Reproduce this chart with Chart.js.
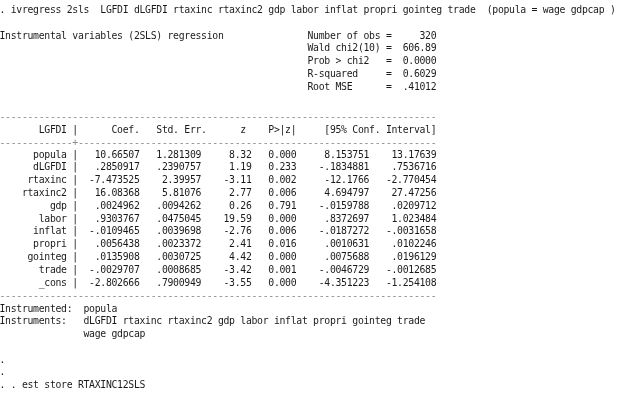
<!DOCTYPE html>
<html><head><meta charset="utf-8">
<script src="https://cdn.jsdelivr.net/npm/chart.js@4"></script>
<style>html,body{margin:0;padding:0;background:#fff}#w{width:623px;height:402px}</style>
</head><body><div id="w"><canvas id="c"></canvas></div>
<script>
const depVar = "LGFDI";
const varNames = ["popula","dLGFDI","rtaxinc","rtaxinc2","gdp","labor","inflat","propri","gointeg","trade","_cons"];
const coef   = ["10.66507",".2850917","-7.473525","16.08368",".0024962",".9303767","-.0109465",".0056438",".0135908","-.0029707","-2.802666"];
const stdErr = ["1.281309",".2390757","2.39957","5.81076",".0094262",".0475045",".0039698",".0023372",".0030725",".0008685",".7900949"];
const zVal   = ["8.32","1.19","-3.11","2.77","0.26","19.59","-2.76","2.41","4.42","-3.42","-3.55"];
const pVal   = ["0.000","0.233","0.002","0.006","0.791","0.000","0.006","0.016","0.000","0.001","0.000"];
const ciLow  = ["8.153751","-.1834881","-12.1766","4.694797","-.0159788",".8372697","-.0187272",".0010631",".0075688","-.0046729","-4.351223"];
const ciHigh = ["13.17639",".7536716","-2.770454","27.47256",".0209712","1.023484","-.0031658",".0102246",".0196129","-.0012685","-1.254108"];
const statLabels = ["Number of obs =","Wald chi2(10) =","Prob > chi2   =","R-squared     =","Root MSE      ="];
const statValues = ["320","606.89","0.0000","0.6029",".41012"];

const L = (s,n)=>s.padStart(n);
const lines = [];
lines.push([10, ". ivregress 2sls  LGFDI dLGFDI rtaxinc rtaxinc2 gdp labor inflat propri gointeg trade  (popula = wage gdpcap )"]);
for (let i=0;i<5;i++){
  const left = i===0 ? "Instrumental variables (2SLS) regression" : "";
  lines.push([36+i*12.8, left.padEnd(55) + statLabels[i] + L(statValues[i],8)]);
}
const dash = "-".repeat(78);
lines.push([117, dash]);
lines.push([130, L(depVar,12)+" |      Coef.   Std. Err.      z    P>|z|     [95% Conf. Interval]"]);
lines.push([143, "-".repeat(13)+"+"+"-".repeat(64)]);
varNames.forEach((v,i)=>{
  lines.push([155+i*12.8, L(v,12)+" |"+L(coef[i],11)+L(stdErr[i],11)+L(zVal[i],9)+L(pVal[i],8)+L(ciLow[i],13)+L(ciHigh[i],12)]);
});
lines.push([296, dash]);
lines.push([309, "Instrumented:  popula"]);
lines.push([321, "Instruments:   dLGFDI rtaxinc rtaxinc2 gdp labor inflat propri gointeg trade"]);
lines.push([334, "               wage gdpcap"]);
lines.push([360, "."]);
lines.push([372, "."]);
lines.push([385, ". . est store RTAXINC12SLS"]);

const textPlugin = {
  id:'stataText',
  afterDraw(chart){
    const ctx = chart.ctx;
    ctx.save();
    ctx.fillStyle = "#fff";
    ctx.fillRect(0,0,chart.width,chart.height);
    ctx.font = "9.8px 'DejaVu Sans Mono', monospace";
    ctx.textBaseline = "middle";
    ctx.textAlign = "left";
    const cw = 5.6;
    lines.forEach(([y,s])=>{
      const isDash = /^[-+]+$/.test(s);
      ctx.fillStyle = isDash ? "#8a8a8a" : "#1a1a1a";
      for (let k=0;k<s.length;k++){
        if (s[k]!==" ") ctx.fillText(s[k], k*cw - 0.5, y);
      }
    });
    ctx.restore();
  }
};

new Chart(document.getElementById('c'), {
  type:'scatter',
  data:{datasets:[{data:varNames.map((v,i)=>({x:i,y:parseFloat(coef[i])})), pointRadius:0}]},
  options:{responsive:true, maintainAspectRatio:false, animation:false,
    plugins:{legend:{display:false}, tooltip:{enabled:false}},
    scales:{x:{display:false}, y:{display:false}}},
  plugins:[textPlugin]
});
</script></body></html>
